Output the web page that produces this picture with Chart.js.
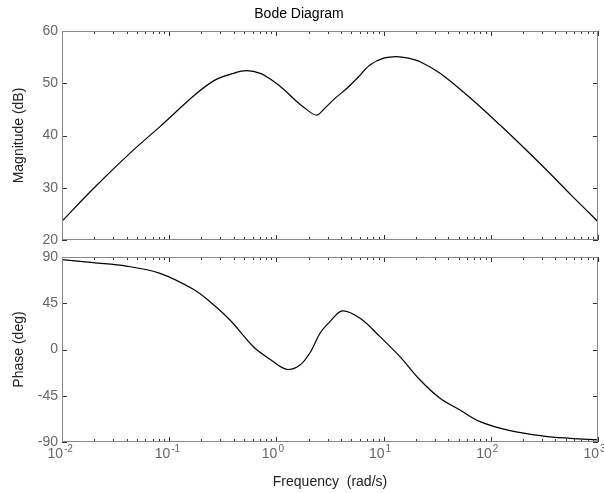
<!DOCTYPE html>
<html>
<head>
<meta charset="utf-8">
<script src="https://cdn.jsdelivr.net/npm/chart.js@4.4.1/dist/chart.umd.min.js"></script>
<style>
  body { margin: 0; background: #fff; }
  #wrap { position: relative; width: 604px; height: 493px; }
  canvas { position: absolute; left: 0; }
</style>
</head>
<body>
<div id="wrap">
  <canvas id="magChart" width="604" height="249" style="top:0"></canvas>
  <canvas id="phaseChart" width="604" height="244" style="top:249px"></canvas>
</div>
<script>
// values
const magFreq = [0.01, 0.0204, 0.0462, 0.082, 0.174, 0.267, 0.398, 0.528, 0.708, 0.904,
  1.175, 1.49, 1.905, 2.38, 2.82, 3.52, 4.53, 5.75, 7.46, 10,
  13.2, 17.0, 21.9, 33.6, 61.7, 122, 200, 331, 562, 1000];
const magDb = [23.6, 30.2, 37.2, 41.7, 47.8, 50.6, 51.9, 52.4, 51.9, 50.6,
  48.8, 46.8, 45.0, 43.9, 45.2, 47.1, 49.0, 51.1, 53.5, 54.8,
  55.1, 54.8, 54.1, 51.9, 47.5, 42.0, 37.8, 33.4, 28.6, 23.5];

const phaseFreq = [0.01, 0.0195, 0.0398, 0.082, 0.168, 0.24, 0.369, 0.61, 0.891, 1.25,
  1.66, 2.09, 2.55, 3.16, 4.12, 6.03, 9.25, 14.2, 21.9, 33.6,
  51.6, 79.4, 151, 309, 550, 1000];
const phaseDeg = [87.5, 84.5, 81.2, 74.1, 58.6, 46.5, 28.7, 2.7, -10.2, -19.3,
  -15.1, -2.1, 15.8, 27.1, 37.5, 30.3, 12.5, -7.0, -29.7, -47.5,
  -58.9, -70.2, -79, -84.2, -86.4, -88];

const decadeExponents = ['-2', '-1', '0', '1', '2', '3'];
const magTicks = [20, 30, 40, 50, 60];
const phaseTicks = [-90, -45, 0, 45, 90];

const FONT = "'Liberation Sans', Arial, Helvetica, sans-serif";

// inward tick marks, grey box and 10^n labels like the MATLAB axes
const frame = {
  id: 'frame',
  afterDraw(chart, args, opts) {
    const {ctx, chartArea: a} = chart;
    const x = chart.scales.x, y = chart.scales.y;
    ctx.save();
    ctx.strokeStyle = '#333';
    ctx.lineWidth = 1;
    ctx.beginPath();
    decadeExponents.forEach((e, i) => {
      for (let k = 1; k <= 9; k++) {
        if (i === decadeExponents.length - 1 && k > 1) break;
        const px = Math.round(x.getPixelForValue(k * Math.pow(10, +e))) + 0.5;
        const len = k === 1 ? 5 : 3;
        ctx.moveTo(px, a.top); ctx.lineTo(px, a.top + len);
        ctx.moveTo(px, a.bottom); ctx.lineTo(px, a.bottom - len);
      }
    });
    opts.yTicks.forEach(v => {
      const py = Math.round(y.getPixelForValue(v)) + 0.5;
      ctx.moveTo(a.left, py); ctx.lineTo(a.left + 5, py);
      ctx.moveTo(a.right, py); ctx.lineTo(a.right - 5, py);
    });
    ctx.stroke();
    ctx.strokeStyle = '#888';
    ctx.strokeRect(a.left + 0.5, a.top + 0.5, a.width - 1, a.height - 1);

    if (opts.xLabels) {
      ctx.fillStyle = '#666';
      decadeExponents.forEach(e => {
        const px = x.getPixelForValue(Math.pow(10, +e));
        ctx.font = '14px ' + FONT;
        ctx.textAlign = 'right';
        ctx.textBaseline = 'alphabetic';
        ctx.fillText('10', px + 1, a.bottom + 16);
        ctx.font = '10px ' + FONT;
        ctx.textAlign = 'left';
        ctx.fillText(e, px + 2, a.bottom + 10);
      });
    }
    ctx.restore();
  }
};

function yAxis(min, max, step, title) {
  return {
    min: min, max: max,
    ticks: { stepSize: step, color: '#666', padding: 4, font: { family: FONT, size: 14 } },
    grid: { display: false, drawTicks: false },
    border: { display: false },
    title: { display: true, text: title, color: '#222', font: { family: FONT, size: 14 }, padding: { top: 11 } },
    afterFit: s => { s.width = 62; s.paddingTop = 0; s.paddingBottom = 0; }
  };
}

const lineStyle = {
  borderColor: '#000',
  borderWidth: 1.2,
  pointRadius: 0,
  fill: false,
  tension: 0.35
};

const config = {
  type: 'line',
  data: {
    datasets: [Object.assign({
      data: magFreq.map((f, i) => ({ x: f, y: magDb[i] }))
    }, lineStyle)]
  },
  options: {
    responsive: false,
    animation: false,
    layout: { padding: { top: 0, right: 6, bottom: 9, left: 0 } },
    plugins: {
      legend: { display: false },
      tooltip: { enabled: false },
      title: {
        display: true, text: 'Bode Diagram', color: '#000',
        font: { family: FONT, size: 14, weight: 'normal' },
        padding: { top: 6, bottom: 8.2 }
      },
      frame: { yTicks: magTicks, xLabels: false }
    },
    scales: {
      x: { type: 'logarithmic', min: 0.01, max: 1000, display: false },
      y: yAxis(20, 60, 10, 'Magnitude (dB)')
    }
  },
  plugins: [frame]
};

const config2 = {
  type: 'line',
  data: {
    datasets: [Object.assign({
      data: phaseFreq.map((f, i) => ({ x: f, y: phaseDeg[i] }))
    }, lineStyle)]
  },
  options: {
    responsive: false,
    animation: false,
    layout: { padding: { top: 8, right: 6, bottom: 0, left: 0 } },
    plugins: {
      legend: { display: false },
      tooltip: { enabled: false },
      frame: { yTicks: phaseTicks, xLabels: true }
    },
    scales: {
      x: {
        type: 'logarithmic', min: 0.01, max: 1000,
        ticks: { display: false, autoSkip: false },
        grid: { display: false, drawTicks: false },
        border: { display: false },
        title: {
          display: true, text: 'Frequency  (rad/s)', color: '#222',
          font: { family: FONT, size: 14 }, padding: { top: 0, bottom: 2.6 }
        },
        afterFit: s => { s.height = 51; s.paddingLeft = 0; s.paddingRight = 0; }
      },
      y: yAxis(-90, 90, 45, 'Phase (deg)')
    }
  },
  plugins: [frame]
};

const magChart = new Chart(document.getElementById('magChart'), config);
const phaseChart = new Chart(document.getElementById('phaseChart'), config2);
</script>
</body>
</html>
